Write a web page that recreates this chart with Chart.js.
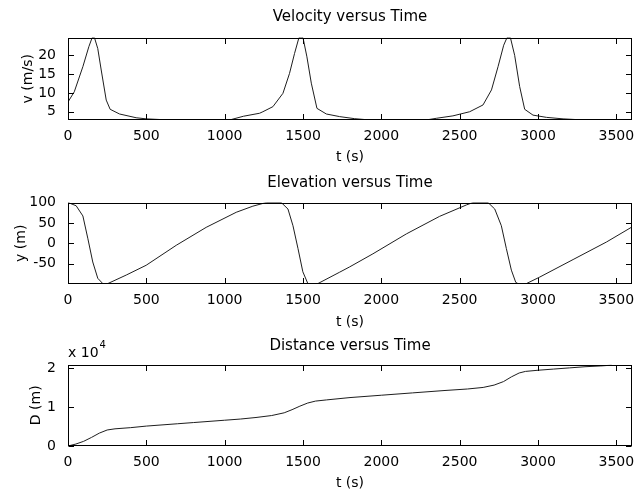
<!DOCTYPE html>
<html>
<head>
<meta charset="utf-8">
<script src="https://cdn.jsdelivr.net/npm/chart.js@4.4.1/dist/chart.umd.min.js"></script>
<style>
  html, body { margin: 0; padding: 0; background: #fff; }
  #page { position: relative; width: 636px; height: 492px; }
  canvas { position: absolute; left: 0; }
</style>
</head>
<body>
<div id="page">
  <canvas id="chart-v" width="636" height="170" style="top:0px"></canvas>
  <canvas id="chart-y" width="636" height="166" style="top:170px"></canvas>
  <canvas id="chart-d" width="636" height="156" style="top:336px"></canvas>
</div>
<script>
  // 時間軸の目盛り
  const timeTicks = [0, 500, 1000, 1500, 2000, 2500, 3000, 3500];
  // 速度
  const velocityTimes = [0, 40, 95, 133, 154, 169, 190, 212, 244, 269, 329, 435, 499, 600, 1040, 1120, 1223, 1244, 1308, 1372, 1414, 1446, 1474, 1500, 1525, 1553, 1589, 1649, 1734, 1830, 1900, 2300, 2351, 2457, 2564, 2649, 2703, 2745, 2781, 2802, 2824, 2851, 2883, 2915, 2968, 3054, 3160, 3250, 3600];
  const velocityValues = [7.6, 10.3, 17.0, 22.3, 24.7, 24.7, 21.8, 16.1, 8.1, 5.65, 4.4, 3.4, 3.1, 2.9, 2.9, 3.8, 4.6, 5.0, 6.35, 9.9, 15.2, 20.5, 24.7, 24.7, 19.6, 12.6, 5.9, 4.4, 3.7, 3.15, 2.9, 2.9, 3.25, 3.9, 5.0, 6.8, 10.8, 17.0, 22.7, 24.7, 24.7, 20.0, 11.7, 5.65, 4.1, 3.5, 3.1, 2.9, 2.9];
  const velocityTicks = [5, 10, 15, 20];
  // 標高
  const elevationTimes = [0, 52, 95, 127, 158, 190, 222, 254, 372, 499, 691, 882, 1074, 1180, 1266, 1361, 1404, 1436, 1468, 1499, 1531, 1595, 1734, 1798, 1946, 2160, 2372, 2543, 2585, 2681, 2724, 2766, 2798, 2830, 2858, 2872, 2926, 3011, 3224, 3437, 3600];
  const elevationValues = [100, 92, 67, 11, -46, -86, -99, -99, -78, -54, -5, 39, 76, 91, 100, 100, 84, 43, -13, -70, -99, -99, -71, -58, -26, 23, 66, 94, 100, 100, 84, 43, -13, -66, -96, -99, -99, -83, -40, 3, 40];
  const elevationTicks = [-50, 0, 50, 100];
  // 距離 (x 10^4 m)
  const distanceTimes = [0, 50, 100, 150, 200, 250, 300, 400, 500, 600, 700, 800, 900, 1000, 1100, 1200, 1300, 1380, 1430, 1480, 1530, 1580, 1650, 1800, 2000, 2200, 2400, 2550, 2650, 2720, 2780, 2830, 2880, 2920, 3000, 3100, 3200, 3300, 3400, 3470];
  const distanceValues = [0.0, 0.05, 0.12, 0.22, 0.33, 0.41, 0.44, 0.47, 0.51, 0.54, 0.57, 0.60, 0.63, 0.66, 0.69, 0.73, 0.78, 0.85, 0.93, 1.02, 1.10, 1.15, 1.18, 1.24, 1.30, 1.36, 1.42, 1.46, 1.50, 1.56, 1.65, 1.77, 1.87, 1.91, 1.94, 1.97, 2.00, 2.03, 2.05, 2.07];
  const distanceTicks = [0, 1, 2];

  const fontFamily = '"DejaVu Sans", "Liberation Sans", Arial, sans-serif';
  Chart.defaults.font.family = fontFamily;
  Chart.defaults.font.size = 14;
  Chart.defaults.color = '#000';

  // MATLAB 風の枠と内向きの目盛り
  const boxPlugin = {
    id: 'boxPlugin',
    afterDraw(chart, args, opts) {
      const ctx = chart.ctx;
      const a = chart.chartArea;
      const xs = chart.scales.x;
      const ys = chart.scales.y;
      const l = Math.round(a.left) + 0.5;
      const r = Math.round(a.right) - 0.5;
      const t = Math.round(a.top) + 0.5;
      const b = Math.round(a.bottom) - 0.5;
      const len = 5.5;
      ctx.save();
      ctx.strokeStyle = '#000';
      ctx.lineWidth = 1;
      ctx.strokeRect(l, t, r - l, b - t);
      ctx.beginPath();
      xs.ticks.forEach(function(tick) {
        const px = Math.round(xs.getPixelForValue(tick.value)) + 0.5;
        ctx.moveTo(px, b); ctx.lineTo(px, b - len);
        ctx.moveTo(px, t); ctx.lineTo(px, t + len);
      });
      ys.ticks.forEach(function(tick) {
        const py = Math.round(ys.getPixelForValue(tick.value)) + 0.5;
        ctx.moveTo(l, py); ctx.lineTo(l + len, py);
        ctx.moveTo(r, py); ctx.lineTo(r - len, py);
      });
      ctx.stroke();
      if (opts && opts.exponent) {
        ctx.fillStyle = '#000';
        ctx.textBaseline = 'alphabetic';
        ctx.font = '14px ' + fontFamily;
        ctx.fillText('x 10', a.left, a.top - 7.5);
        const w = ctx.measureText('x 10').width;
        ctx.font = '10px ' + fontFamily;
        ctx.fillText(opts.exponent, a.left + w + 1, a.top - 17);
      }
      ctx.restore();
    }
  };

  function drawPanel(canvasId, cfg) {
    const points = cfg.times.map(function(t, i) { return {x: t, y: cfg.values[i]}; });
    const canvas = document.getElementById(canvasId);
    return new Chart(canvas.getContext('2d'), {
      type: 'line',
      data: {
        datasets: [{
          data: points,
          borderColor: '#1e1e1e',
          borderWidth: 1,
          pointRadius: 0,
          tension: 0,
        }],
      },
      options: {
        responsive: false,
        animation: false,
        layout: { padding: { left: 0, right: 4, top: 0, bottom: 0 } },
        plugins: {
          legend: { display: false },
          tooltip: { enabled: false },
          title: {
            display: true,
            text: cfg.title,
            fullSize: false,
            font: { size: 15, weight: 'normal' },
            padding: cfg.titlePadding,
          },
          boxPlugin: { exponent: cfg.exponent },
        },
        scales: {
          x: {
            type: 'linear',
            min: 0,
            max: 3600,
            grid: { display: false },
            border: { display: false },
            afterBuildTicks: function(s) { s.ticks = timeTicks.map(function(v) { return {value: v}; }); },
            afterFit: function(s) { s.height = cfg.xHeight; },
            ticks: { padding: 0, maxRotation: 0, autoSkip: false, callback: function(v) { return String(v); } },
            title: { display: true, text: 't (s)', padding: { top: 0, bottom: cfg.xTitleBottom } },
          },
          y: {
            type: 'linear',
            min: cfg.min,
            max: cfg.max,
            grid: { display: false },
            border: { display: false },
            afterBuildTicks: function(s) { s.ticks = cfg.ticks.map(function(v) { return {value: v}; }); },
            afterFit: function(s) { s.width = 68; },
            ticks: { padding: 4, autoSkip: false, callback: function(v) { return String(v); } },
            title: { display: true, text: cfg.yTitle, padding: { top: cfg.yTitleTop, bottom: 0 } },
          },
        },
      },
      plugins: [boxPlugin],
    });
  }

  drawPanel('chart-v', {
    title: 'Velocity versus Time',
    times: velocityTimes, values: velocityValues, ticks: velocityTicks,
    min: 2.8, max: 24.75, yTitle: 'v (m/s)',
    titlePadding: { top: 8.3, bottom: 11.2 }, xHeight: 50, xTitleBottom: 4.1, yTitleTop: 20,
  });
  drawPanel('chart-y', {
    title: 'Elevation versus Time',
    times: elevationTimes, values: elevationValues, ticks: elevationTicks,
    min: -100, max: 100, yTitle: 'y (m)',
    titlePadding: { top: 4.3, bottom: 10.2 }, xHeight: 52, xTitleBottom: 5.6, yTitleTop: 12.6,
  });
  drawPanel('chart-d', {
    title: 'Distance versus Time',
    times: distanceTimes, values: distanceValues, ticks: distanceTicks,
    min: 0, max: 2.087, yTitle: 'D (m)', exponent: '4',
    titlePadding: { top: 1.3, bottom: 9.2 }, xHeight: 46, xTitleBottom: 0.6, yTitleTop: 27.6,
  });
</script>
</body>
</html>
